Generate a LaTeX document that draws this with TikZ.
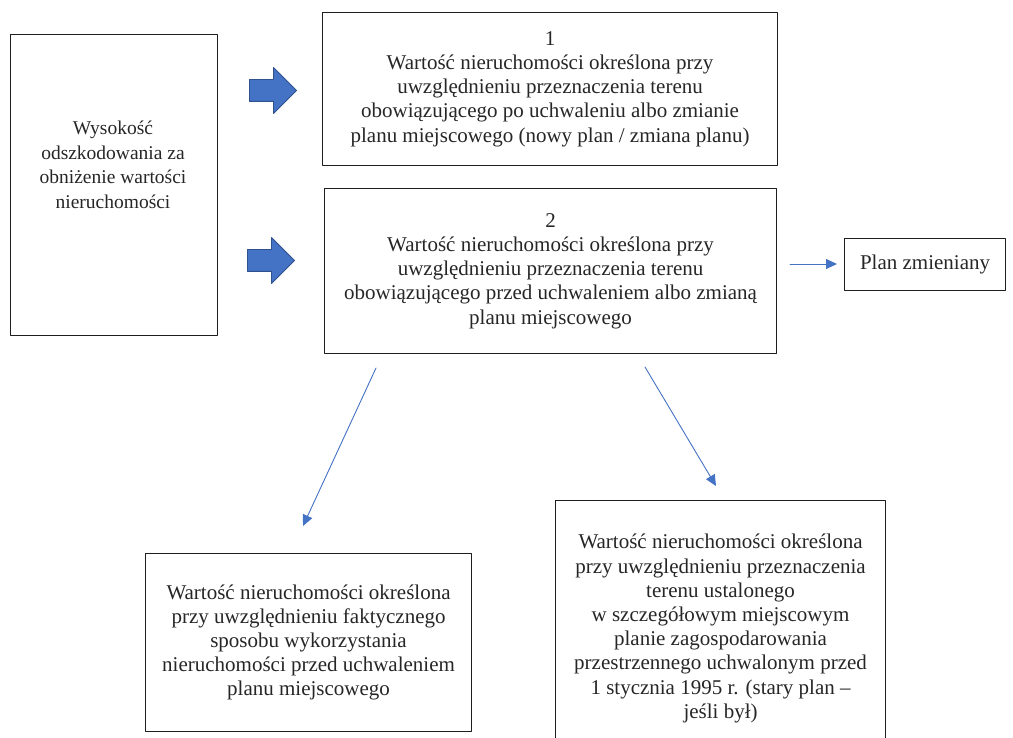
\documentclass[tikz,border=0pt]{standalone}
\usepackage{fontspec}
\setmainfont{Liberation Serif}
\usepackage{tikz}
\usetikzlibrary{arrows.meta,calc,positioning,shapes.arrows}
\definecolor{arrblue}{HTML}{4472C4}
\definecolor{arrdark}{HTML}{2F528F}
\definecolor{boxline}{HTML}{1E1E1E}
\tikzset{
  box/.style={rectangle, draw=boxline, line width=1.1pt, inner sep=0pt, anchor=north west},
  txt/.style={align=center, font=\fontsize{21}{24.2}\selectfont, text=black!85, inner sep=0pt},
  blockarr/.style={single arrow, fill=arrblue, draw=arrdark, line width=0.9pt,
    minimum height=47pt, minimum width=45pt, single arrow head extend=12pt,
    inner xsep=0pt, inner ysep=10.5pt, anchor=tail},
  thinarr/.style={draw=arrblue, line width=0.9pt, -{Triangle[length=11pt,width=10pt]}},
  every picture/.style={line cap=round, line join=round}
}
\begin{document}
\begin{tikzpicture}[x=1pt, y=-1pt]
  \useasboundingbox (0,0) rectangle (1013,738);

  \node[box, minimum width=207pt, minimum height=301pt] (lbox) at (10,34) {};
  \node[txt, font=\fontsize{19.5}{24.5}\selectfont] (ltxt) at (113,165) {Wysokość\\odszkodowania za\\obniżenie wartości\\nieruchomości};

  \node[box, txt, draw=boxline, line width=1.1pt, anchor=north west, minimum width=455pt, minimum height=153pt] (box1) at (322,12)
    {1\\Wartość nieruchomości określona przy\\uwzględnieniu przeznaczenia terenu\\obowiązującego po uchwaleniu albo zmianie\\planu miejscowego (nowy plan / zmiana planu)};
  \node[box, txt, draw=boxline, line width=1.1pt, anchor=north west, minimum width=452pt, minimum height=165pt] (box2) at (324,188)
    {2\\Wartość nieruchomości określona przy\\uwzględnieniu przeznaczenia terenu\\obowiązującego przed uchwaleniem albo zmianą\\planu miejscowego};
  \node[box, txt, draw=boxline, line width=1.1pt, anchor=north west, minimum width=161pt, minimum height=52pt] (plan) at (844,238)
    {Plan zmieniany};
  \node[box, txt, draw=boxline, line width=1.1pt, anchor=north west, minimum width=326pt, minimum height=178pt] (fakt) at (145,553)
    {Wartość nieruchomości określona\\przy uwzględnieniu faktycznego\\sposobu wykorzystania\\nieruchomości przed uchwaleniem\\planu miejscowego};
  \node[box, txt, draw=boxline, line width=1.1pt, anchor=north west, minimum width=330pt, minimum height=256pt] (stary) at (555,500)
    {Wartość nieruchomości określona\\przy uwzględnieniu przeznaczenia\\terenu ustalonego\\w szczegółowym miejscowym\\planie zagospodarowania\\przestrzennego uchwalonym przed\\1 stycznia 1995 r. (stary plan –\\jeśli był)};

  \node[blockarr] (arr1) at (249,90.5) {};
  \node[blockarr] (arr2) at (247,260.5) {};

  \coordinate (p1) at (790,264);
  \coordinate (p2) at (376,368);
  \coordinate (q2) at (303,526);
  \coordinate (p3) at (645,367);
  \coordinate (q3) at (716,486);

  \draw[thinarr, shorten >=7pt] (p1) -- (p1 -| plan.west);
  \draw[thinarr] (p2) -- (q2);
  \draw[thinarr] (p3) -- (q3);
\end{tikzpicture}
\end{document}
